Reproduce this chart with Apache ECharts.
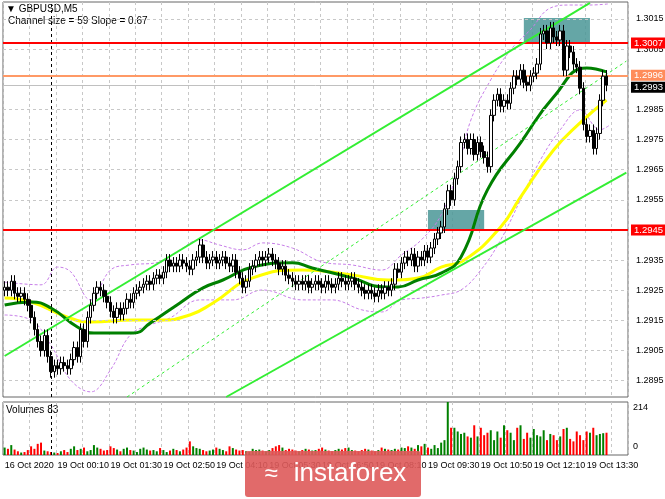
<!DOCTYPE html>
<html><head><meta charset="utf-8">
<script src="https://cdn.jsdelivr.net/npm/echarts@6/dist/echarts.min.js"></script>
<style>html,body{margin:0;padding:0;background:#fff}#c{width:665px;height:499px}</style>
</head><body><div id="c"></div>
<script>
const closes = [
1.2926,1.2925,1.2928,1.2924,1.2923,1.2924,
1.2922,1.2920,1.2916,1.2912,
1.2908,1.2905,1.2910,1.2903,
1.2898,1.2900,1.2899,1.2901,1.2900,1.2899,1.2902,
1.2906,1.2903,1.2912,1.2908,1.2916,1.2920,
1.2924,1.2926,1.2925,1.2923,1.2921,1.2918,
1.2916,1.2919,1.2917,1.2919,1.2922,1.2921,1.2924,1.2925,
1.2926,1.2927,1.2928,1.2927,1.2929,1.2930,1.2929,1.2931,
1.2935,1.2933,1.2934,1.2933,1.2935,1.2934,1.2933,1.2932,1.2935,1.2936,
1.2940,1.2936,1.2934,1.2935,1.2936,1.2934,
1.2935,1.2936,1.2934,1.2933,1.2935,1.2931,1.2929,1.2926,
1.2928,1.2932,1.2933,1.2935,
1.2936,1.2935,1.2936,1.2937,1.2935,1.2934,1.2932,1.2933,
1.2930,1.2929,1.2928,1.2927,1.2928,1.2927,1.2928,1.2926,
1.2927,1.2928,1.2927,1.2926,1.2928,1.2927,1.2926,1.2927,1.2929,1.2928,1.2927,1.2928,1.2929,1.2927,1.2926,1.2925,
1.2924,1.2925,1.2924,1.2923,1.2925,1.2924,1.2926,1.2925,1.2927,
1.2932,1.2931,1.2934,1.2936,1.2935,1.2937,1.2933,
1.2936,1.2935,1.2938,1.2936,1.2939,1.2942,
1.2944,1.2946,1.2952,1.2958,1.2955,
1.2962,1.2966,1.2974,1.2975,1.2972,
1.2975,1.2970,1.2974,1.2971,1.2969,1.2966,1.2983,
1.2988,1.2990,1.2986,1.2988,1.2987,
1.2992,1.2996,1.2995,1.2998,1.2994,1.2993,1.2996,1.2997,
1.3000,1.3010,1.3011,1.3007,1.3012,1.3009,
1.3008,1.3011,1.2998,1.3006,1.3004,1.3000,
1.2999,1.2992,1.2980,1.2976,
1.2978,1.2972,1.2977,1.2988,
1.2996,1.2993];
const volumes = [
30,25,40,22,15,10,12,20,35,25,45,50,18,15,12,10,8,15,20,12,25,
35,20,25,30,15,20,40,30,25,18,20,35,28,22,15,25,30,20,18,12,
25,30,22,18,20,15,28,20,12,18,25,20,15,22,30,55,35,28,25,20,
15,18,22,30,25,20,15,35,28,22,18,20,15,12,25,20,22,18,15,20,
28,35,40,30,20,25,22,18,15,20,25,22,18,20,25,30,22,18,15,20,
25,22,28,30,20,18,15,20,25,22,18,15,20,30,25,22,20,
25,22,30,28,35,30,25,40,35,45,30,25,40,28,50,60,
214,
110,110,95,85,90,75,70,120,75,110,80,90,100,60,95,70,120,100,90,60,110,120,65,90,70,105,80,75,100,60,85,80,60,75,105,110,65,55,95,80,60,95,90,110,80,85,88,90];
const maFast = [[0,1.29201],[8,1.29211],[14,1.29191],[22,1.29128],[27,1.29108],[39,1.29108],[44,1.29141],[53,1.29208],[60,1.29258],[66,1.29284],[75,1.29327],[87,1.29341],[93,1.29324],[105,1.29291],[115,1.29261],[119,1.29261],[125,1.29284],[132,1.29307],[138,1.29360],[146,1.29583],[156,1.29739],[166,1.29891],[176,1.29987],[182,1.29974]];
const maSlow = [[0,1.29224],[8,1.29211],[19,1.29161],[26,1.29145],[39,1.29151],[47,1.29151],[56,1.29168],[63,1.29208],[75,1.29291],[90,1.29317],[105,1.29301],[116,1.29284],[125,1.29291],[132,1.29327],[139,1.29350],[150,1.29460],[156,1.29559],[166,1.29715],[174,1.29805],[182,1.29881]];
const bandUpper = [[0,1.29277],[11,1.29268],[16,1.29327],[20,1.29311],[26,1.29218],[32,1.29317],[38,1.29334],[47,1.29344],[53,1.29384],[59,1.29417],[65,1.29400],[72,1.29384],[78,1.29407],[87,1.29390],[96,1.29344],[105,1.29334],[114,1.29317],[120,1.29367],[126,1.29417],[132,1.29500],[137,1.29649],[141,1.29815],[147,1.29948],[153,1.30047],[159,1.30114],[165,1.30186],[171,1.30196],[177,1.30196],[183,1.30200]];
const bandLower = [[0,1.29168],[8,1.29151],[14,1.29068],[20,1.28952],[26,1.28913],[32,1.28986],[38,1.29102],[44,1.29135],[50,1.29158],[59,1.29218],[69,1.29218],[78,1.29251],[90,1.29218],[99,1.29218],[108,1.29185],[114,1.29178],[120,1.29218],[126,1.29224],[132,1.29234],[138,1.29251],[144,1.29317],[150,1.29417],[156,1.29550],[162,1.29682],[168,1.29782],[174,1.29848],[180,1.29782],[183,1.29798]];
const channelUpper = [[0,1.29032],[177,1.30203]];
const channelLower = [[67,1.28896],[188,1.29640]];
const channelMid = [[37,1.28896],[188,1.30010]];
const priceTicks = [1.2895,1.2905,1.2915,1.2925,1.2935,1.2955,1.2965,1.2975,1.2985,1.3005,1.3015];
const timeLabels = ["16 Oct 2020","19 Oct 00:10","19 Oct 01:30","19 Oct 02:50","19 Oct 04:10","19 Oct 05:30","19 Oct 06:50","19 Oct 08:10","19 Oct 09:30","19 Oct 10:50","19 Oct 12:10","19 Oct 13:30"];
const levels = {red1:1.3007, red2:1.2945, orange:1.2996, last:1.2993};
const zoneA = [128,1.29516,145,1.2945];
const zoneB = [157,1.30153,177,1.3007];

const N = 189;
const cats = []; for (let i=0;i<N;i++) cats.push(String(i));
const ohlc = closes.map((c,i)=>{const o = i? closes[i-1] : 1.2925; return [o,c,Math.min(o,c)-0.0002,Math.max(o,c)+0.0002];});
const vol = volumes.map((v,i)=>({value:v,itemStyle:{color: closes[i]>=ohlc[i][0]?'#008000':'#ff0000'}}));
const YMIN=1.28896, YMAX=1.30206;
const FONT='"Liberation Sans", Arial, sans-serif';
const tag = (txt,bg,off)=>({position:'end',formatter:txt,color:'#fff',backgroundColor:bg,padding:[1,3,0,3],fontSize:9.5,fontFamily:FONT,distance:3,offset:[0,off||0]});

const chart = echarts.init(document.getElementById('c'),null,{renderer:'canvas'});
const xAxisBase = {type:'category',data:cats,boundaryGap:true,axisTick:{show:false},
  axisLine:{show:false},
  splitLine:{show:true,interval:7,lineStyle:{color:'#c8c8c8',type:[3,3]}}};
chart.setOption({
  animation:false,
  grid:[{left:3,right:37,top:2,bottom:102,show:true,borderColor:'#666',borderWidth:1},
        {left:3,right:37,top:402,bottom:44,show:true,borderColor:'#666',borderWidth:1}],
  xAxis:[Object.assign({gridIndex:0,axisLabel:{show:false}},xAxisBase),
         Object.assign({gridIndex:1,axisLabel:{show:true,interval:15,align:'left',margin:6,hideOverlap:false,
            formatter:(v)=>timeLabels[Number(v)/16]||'',fontSize:9,color:'#000',fontFamily:FONT}},xAxisBase)],
  yAxis:[{gridIndex:0,type:'value',position:'right',min:YMIN,max:YMAX,axisLabel:{show:false},splitLine:{show:false},axisLine:{show:false}},
         {gridIndex:1,type:'value',position:'right',min:0,max:214,axisLabel:{show:false},splitLine:{show:false},axisLine:{show:false}}],
  series:[
    {type:'line',xAxisIndex:0,yAxisIndex:0,data:closes,symbol:'none',lineStyle:{opacity:0},silent:true,z:1,
     markLine:{silent:true,symbol:'none',animation:false,precision:5,data:[
       ...priceTicks.map(p=>({yAxis:p,lineStyle:{color:'#c8c8c8',type:[3,3],width:1},
          label:{show:true,position:'end',formatter:p.toFixed(4),color:'#000',fontSize:9,fontFamily:FONT,distance:8}})),
       {xAxis:'14',lineStyle:{color:'#000',type:[3,3],width:1},label:{show:false}}]}},
    {type:'line',data:bandUpper,smooth:0.4,symbol:'none',lineStyle:{color:'#c77ee8',width:1,type:[3,2]},z:2},
    {type:'line',data:bandLower,smooth:0.4,symbol:'none',lineStyle:{color:'#c77ee8',width:1,type:[3,2]},z:2},
    {type:'candlestick',xAxisIndex:0,yAxisIndex:0,data:ohlc,barWidth:3,z:6,
     itemStyle:{color:'#ffffff',color0:'#000000',borderColor:'#000000',borderColor0:'#000000',borderWidth:1},
     markArea:{silent:true,itemStyle:{color:'#4a9696',opacity:0.85},data:[
       [{xAxis:String(zoneA[0]),yAxis:zoneA[1]},{xAxis:String(zoneA[2]),yAxis:zoneA[3]}],
       [{xAxis:String(zoneB[0]),yAxis:zoneB[1]},{xAxis:String(zoneB[2]),yAxis:zoneB[3]}]]}},
    {type:'line',xAxisIndex:0,yAxisIndex:0,data:closes,symbol:'none',lineStyle:{opacity:0},silent:true,z:7,
     markLine:{silent:true,symbol:'none',animation:false,precision:5,data:[
       {yAxis:levels.last,lineStyle:{color:'#c0c0c0',type:'solid',width:1},label:tag('1.2993','#000',2)},
       {yAxis:levels.orange,lineStyle:{color:'#ff9966',type:'solid',width:2},label:tag('1.2996','#ff8c5a',-1)},
       {yAxis:levels.red1,lineStyle:{color:'#ff0000',type:'solid',width:2},label:tag('1.3007','#ff0000')},
       {yAxis:levels.red2,lineStyle:{color:'#ff0000',type:'solid',width:2},label:tag('1.2945','#ff0000')}]}},
    {type:'line',data:maSlow,smooth:0.5,symbol:'none',lineStyle:{color:'#ffff00',width:3},xAxisIndex:0,yAxisIndex:0,z:3},
    {type:'line',data:maFast,smooth:0.5,symbol:'none',lineStyle:{color:'#008000',width:3},xAxisIndex:0,yAxisIndex:0,z:4},
    {type:'line',data:channelUpper,symbol:'none',lineStyle:{color:'#33ee33',width:2},z:5},
    {type:'line',data:channelLower,symbol:'none',lineStyle:{color:'#33ee33',width:2},z:5},
    {type:'line',data:channelMid,symbol:'none',lineStyle:{color:'#33ee33',width:1,type:[3,3]},z:5},
    {type:'bar',xAxisIndex:1,yAxisIndex:1,data:vol,barWidth:2,
     markLine:{silent:true,symbol:'none',data:[{xAxis:'14'}],lineStyle:{color:'#000',type:[3,3],width:1},label:{show:false}}}
  ],
  graphic:[
    {type:'text',left:6,top:4,style:{text:'▼ GBPUSD,M5',fontSize:10,fill:'#000',fontFamily:FONT}},
    {type:'text',left:8,top:16,style:{text:'Channel size = 59 Slope = 0.67',fontSize:10,fill:'#000',fontFamily:FONT}},
    {type:'text',left:6,top:405,style:{text:'Volumes 83',fontSize:10,fill:'#000',fontFamily:FONT}},
    {type:'text',left:633,top:403,style:{text:'214',fontSize:9,fill:'#000',fontFamily:FONT}},
    {type:'text',left:633,top:442,style:{text:'0',fontSize:9,fill:'#000',fontFamily:FONT}},
    {type:'rect',shape:{x:245,y:451,width:176,height:46,r:3},style:{fill:'rgba(222,90,90,0.9)'},z:100},
    {type:'text',x:350,y:474,style:{text:'instaforex',fontSize:26,fill:'#fff',fontFamily:FONT,align:'center',verticalAlign:'middle'},z:101},
    {type:'text',x:271,y:474,style:{text:'≈',fontSize:24,fill:'#fff',fontFamily:FONT,align:'center',verticalAlign:'middle'},z:101}
  ]
});
</script></body></html>
